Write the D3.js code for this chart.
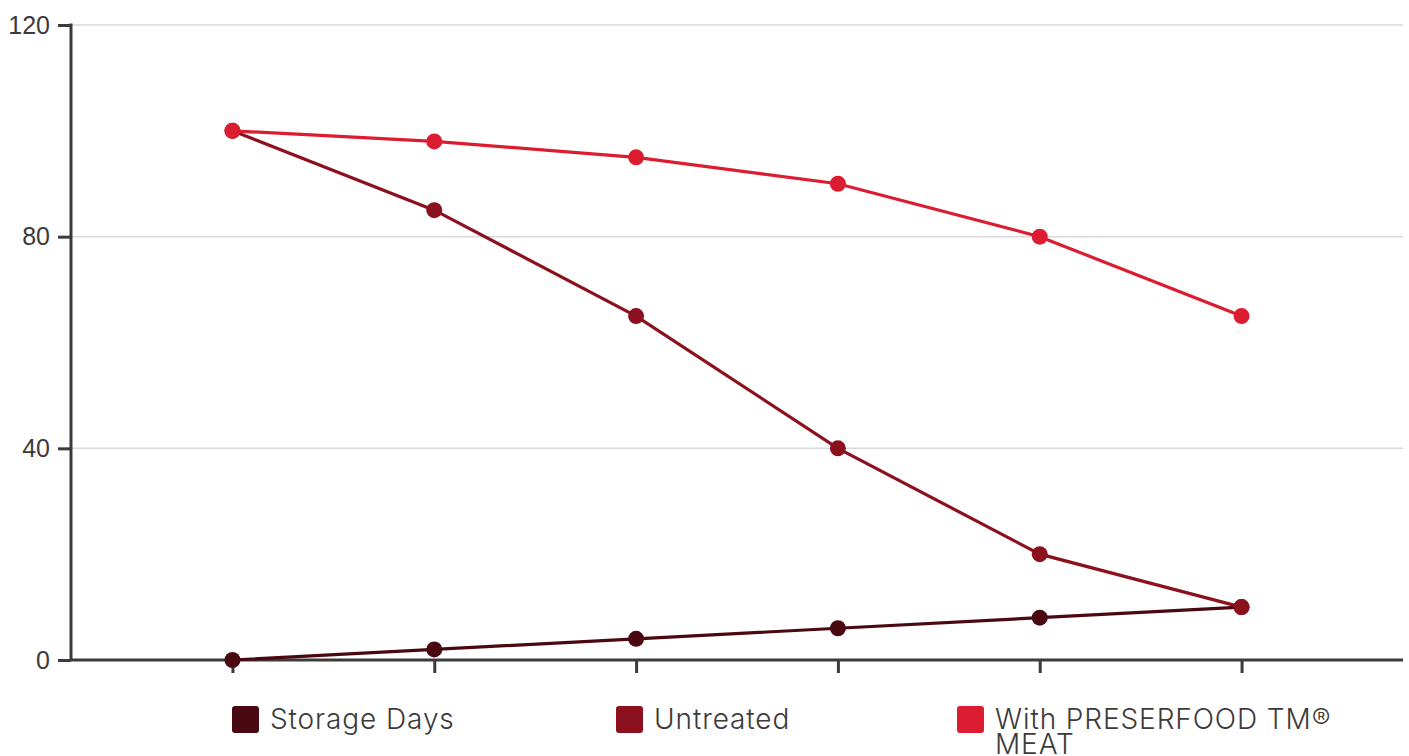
<!DOCTYPE html>
<html>
<head>
<meta charset="utf-8">
<script src="https://cdn.jsdelivr.net/npm/d3@7/dist/d3.min.js"></script>
<style>
  html, body { margin: 0; padding: 0; background: #fff; }
  svg { display: block; font-family: Inter, "Noto Sans", sans-serif; }
</style>
</head>
<body>
<svg id="chart" width="1409" height="756"></svg>
<script>
// categories on the x axis (no labels shown)
var days = ["d0", "d2", "d4", "d6", "d8", "d10"];
var storageDays = [0, 2, 4, 6, 8, 10];
var untreated = [100, 85, 65, 40, 20, 10];
var preserfood = [100, 98, 95, 90, 80, 65];
var yTicks = [0, 40, 80, 120];

var seriesNames = ["Storage Days", "Untreated", "With PRESERFOOD TM® MEAT"];
var seriesColors = ["#4a0911", "#8c111f", "#dc1c30"];

(function() {
  var svg = d3.select("#chart");
  var plotLeft = 71, plotRight = 1403, plotTop = 25, plotBottom = 660;
  var axisColor = "#3d3a3b";

  var x = d3.scalePoint().domain(days).range([plotLeft, plotRight]).padding(0.8);
  var y = d3.scaleLinear().domain([0, 120]).range([plotBottom, plotTop]);

  // gridlines
  svg.append("g")
    .selectAll("line")
    .data(yTicks.filter(function(d) { return d > 0; }))
    .join("line")
    .attr("x1", plotLeft).attr("x2", plotRight)
    .attr("y1", function(d) { return y(d); })
    .attr("y2", function(d) { return y(d); })
    .attr("stroke", "#d9d9d9")
    .attr("stroke-width", 1.5);

  // y axis
  var yAxis = svg.append("g")
    .attr("transform", "translate(" + plotLeft + ",0)")
    .call(d3.axisLeft(y).tickValues(yTicks).tickSize(13).tickPadding(8));
  yAxis.select(".domain").remove();
  yAxis.selectAll(".tick line").attr("stroke", axisColor).attr("stroke-width", 3);
  yAxis.selectAll(".tick text")
    .attr("fill", axisColor)
    .attr("font-size", 25)
    .attr("font-weight", 300);
  svg.append("line")
    .attr("x1", plotLeft).attr("x2", plotLeft)
    .attr("y1", plotTop - 1.5).attr("y2", plotBottom)
    .attr("stroke", axisColor).attr("stroke-width", 3);

  // x axis
  var xAxis = svg.append("g")
    .attr("transform", "translate(0," + plotBottom + ")")
    .call(d3.axisBottom(x).tickSize(13).tickSizeOuter(0).tickFormat(""));
  xAxis.select(".domain").remove();
  xAxis.selectAll(".tick line").attr("stroke", axisColor).attr("stroke-width", 3);
  svg.append("line")
    .attr("x1", plotLeft).attr("x2", plotRight)
    .attr("y1", plotBottom).attr("y2", plotBottom)
    .attr("stroke", axisColor).attr("stroke-width", 3);

  // lines and points
  var allSeries = [storageDays, untreated, preserfood];
  var line = d3.line()
    .x(function(d, i) { return x(days[i]); })
    .y(function(d) { return y(d); });

  allSeries.forEach(function(values, s) {
    var g = svg.append("g");
    g.append("path")
      .datum(values)
      .attr("d", line)
      .attr("fill", "none")
      .attr("stroke", seriesColors[s])
      .attr("stroke-width", 3.2);
    g.selectAll("circle")
      .data(values)
      .join("circle")
      .attr("cx", function(d, i) { return x(days[i]); })
      .attr("cy", function(d) { return y(d); })
      .attr("r", 8)
      .attr("fill", seriesColors[s]);
  });

  // legend
  var legendX = [232, 616, 957];
  var legend = svg.append("g").attr("transform", "translate(0,706)");
  seriesNames.forEach(function(name, i) {
    var item = legend.append("g").attr("transform", "translate(" + legendX[i] + ",0)");
    item.append("rect")
      .attr("width", 27).attr("height", 27).attr("rx", 3)
      .attr("fill", seriesColors[i]);
    var text = item.append("text")
      .attr("x", 38).attr("y", 23)
      .attr("fill", axisColor)
      .attr("font-size", 28)
      .attr("font-weight", 300)
      .attr("letter-spacing", 0.9);
    if (i === 2) {
      text.append("tspan").attr("x", 38).text("With PRESERFOOD TM®");
      text.append("tspan").attr("x", 38).attr("dy", 25).text("MEAT");
    } else {
      text.text(name);
    }
  });
})();
</script>
</body>
</html>
